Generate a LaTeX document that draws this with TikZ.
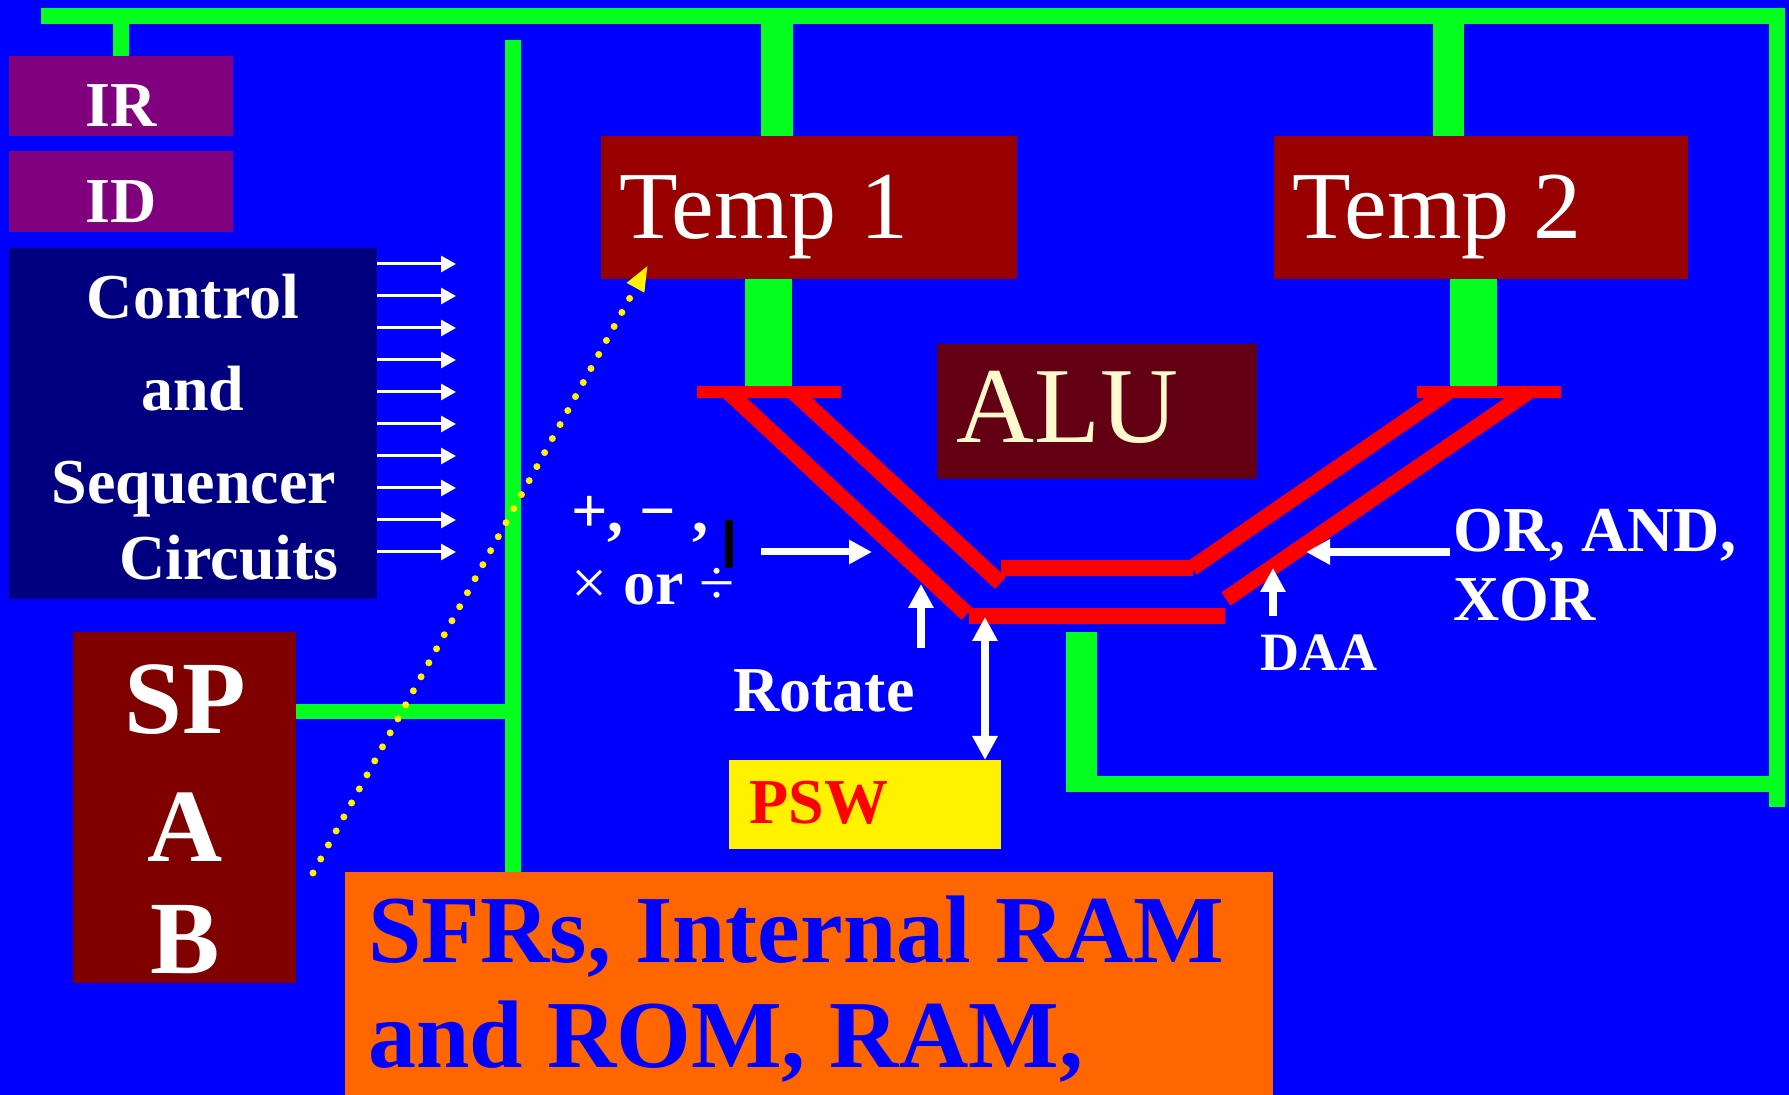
\documentclass[tikz,border=0pt]{standalone}
\usepackage{fontspec}
\setmainfont{Liberation Serif}
\usetikzlibrary{arrows.meta}
\definecolor{bg}{RGB}{0,0,255}
\definecolor{bus}{RGB}{5,255,30}
\definecolor{irc}{RGB}{128,0,128}
\definecolor{ctl}{RGB}{0,0,128}
\definecolor{tmp}{RGB}{153,0,0}
\definecolor{aluc}{RGB}{99,0,20}
\definecolor{spc}{RGB}{128,0,0}
\definecolor{sfr}{RGB}{255,102,0}
\definecolor{alutext}{RGB}{255,250,205}
\definecolor{redbar}{RGB}{255,0,0}
\begin{document}
\begin{tikzpicture}[x=0.5pt,y=-0.5pt,
  blk/.style={draw=none,inner sep=0pt,outer sep=0pt,anchor=north west},
  wtxt/.style={text=white,inner sep=0pt,font=\bfseries\fontsize{32}{36}\selectfont},
  bigtxt/.style={inner sep=0pt,anchor=base west,font=\fontsize{48}{50}\selectfont},
  sptxt/.style={text=white,inner sep=0pt,anchor=base,font=\bfseries\fontsize{52}{54}\selectfont},
  busline/.style={draw=bus,line cap=butt},
  redline/.style={draw=redbar,line cap=butt},
  thickarrow/.style={draw=white,line width=4pt,-{Triangle[length=12pt,width=12pt]}},
  thinarrow/.style={draw=white,line width=1.5pt,-{Triangle[length=7.5pt,width=8pt]}}
]
% background
\fill[bg] (0,0) rectangle (1789,1095);
\useasboundingbox (0,0) rectangle (1789,1095);

% ---------- buses (green) ----------
\coordinate (tl) at (41,16);
\coordinate (tr) at (1777,16);
\coordinate (br) at (1777,807);
\draw[busline,line width=8pt,line join=miter] (tl) -- (tr) -- (br);
\coordinate (irtop) at (121,16);
\coordinate (irbot) at (121,56);
\draw[busline,line width=8pt] (irtop) -- (irbot);
\coordinate (t1a) at (777,16);
\coordinate (t1b) at (777,136);
\draw[busline,line width=16pt] (t1a) -- (t1b);
\coordinate (t2a) at (1448.5,16);
\coordinate (t2b) at (1448.5,136);
\draw[busline,line width=15.5pt] (t2a) -- (t2b);
\coordinate (t1c) at (768.5,279);
\coordinate (t1d) at (768.5,386);
\draw[busline,line width=23.5pt] (t1c) -- (t1d);
\coordinate (t2c) at (1473.5,279);
\coordinate (t2d) at (1473.5,386);
\draw[busline,line width=23.5pt] (t2c) -- (t2d);
\coordinate (lva) at (513,40);
\coordinate (lvb) at (513,873);
\draw[busline,line width=8pt] (lva) -- (lvb);
\coordinate (spa) at (296,711.5);
\coordinate (spb) at (513,711.5);
\draw[busline,line width=7.5pt] (spa) -- (spb);
\coordinate (la) at (1081.5,632);
\coordinate (lb) at (1081.5,792);
\draw[busline,line width=15.5pt] (la) -- (lb);
\coordinate (lc) at (1066,784);
\coordinate (ld) at (1777,784);
\draw[busline,line width=8pt] (lc) -- (ld);

% ---------- boxes ----------
\node[blk,fill=irc,minimum width=112pt,minimum height=40pt] (ir) at (9,56) {};
\node[blk,fill=irc,minimum width=112pt,minimum height=40.5pt] (id) at (9,151) {};
\node[blk,fill=ctl,minimum width=184pt,minimum height=175.5pt] (ctlbox) at (9,248) {};
\node[blk,fill=tmp,minimum width=208pt,minimum height=71.5pt] (temp1) at (601,136) {};
\node[blk,fill=tmp,minimum width=207pt,minimum height=71.5pt] (temp2) at (1274,136) {};
\node[blk,fill=aluc,minimum width=160pt,minimum height=67.5pt] (alu) at (937,344) {};
\node[blk,fill=spc,minimum width=111.5pt,minimum height=175.5pt] (sp) at (73,632) {};
\node[blk,fill=yellow,minimum width=136pt,minimum height=44.5pt] (psw) at (729,760) {};
\node[blk,fill=sfr,minimum width=464pt,minimum height=111.5pt] (sfrs) at (345,872) {};

% ---------- ALU red data paths ----------
\coordinate (lo1) at (728.5,392);  \coordinate (lo2) at (967,614);
\coordinate (li1) at (793.5,392);  \coordinate (li2) at (1000.5,583);
\coordinate (ri1) at (1448,392);   \coordinate (ri2) at (1192,568);
\coordinate (ro1) at (1528,392);   \coordinate (ro2) at (1226,599);
\draw[redline,line width=8pt] (lo1) -- (lo2);
\draw[redline,line width=8pt] (li1) -- (li2);
\draw[redline,line width=8pt] (ri1) -- (ri2);
\draw[redline,line width=8pt] (ro1) -- (ro2);
\coordinate (lb1) at (697,392);  \coordinate (lb2) at (841,392);
\coordinate (rb1) at (1417,392); \coordinate (rb2) at (1561,392);
\draw[redline,line width=6pt] (lb1) -- (lb2);
\draw[redline,line width=6pt] (rb1) -- (rb2);
\coordinate (mu1) at (1001,568); \coordinate (mu2) at (1193,568);
\coordinate (ml1) at (969,616);  \coordinate (ml2) at (1225,616);
\draw[redline,line width=8pt] (mu1) -- (mu2);
\draw[redline,line width=8pt] (ml1) -- (ml2);

% ---------- control arrows ----------
\foreach \i in {0,...,9}{
  \coordinate (ca\i) at (377,{264+32*\i});
  \coordinate (cb\i) at (456,{264+32*\i});
  \draw[thinarrow] (ca\i) -- (cb\i);
}

% ---------- operation arrows ----------
\coordinate (opa) at (761,552); \coordinate (opb) at (872,552);
\draw[draw=white,line width=3.5pt,-{Triangle[length=11.5pt,width=11.5pt]}] (opa) -- (opb);
\coordinate (roa) at (921,648); \coordinate (rob) at (921,584);
\draw[thickarrow] (roa) -- (rob);
\coordinate (psa) at (985,617); \coordinate (psb) at (985,760);
\draw[draw=white,line width=4pt,{Triangle[length=12pt,width=12pt]}-{Triangle[length=12pt,width=12pt]}] (psa) -- (psb);
\coordinate (ora) at (1450,552); \coordinate (orb) at (1306,552);
\draw[thickarrow] (ora) -- (orb);
\coordinate (daa) at (1273,616); \coordinate (dab) at (1273,568);
\draw[thickarrow] (daa) -- (dab);

% black bar
\fill[black] (725,520) rectangle (733,568);

% ---------- yellow dotted pointer ----------
\coordinate (ya) at (313,873);
\coordinate (yb) at (648,265);
\draw[yellow,line width=3.5pt,line cap=round,dash pattern=on 0pt off 8pt,
      -{Triangle[length=13pt,width=9pt]}] (ya) -- (yb);

% ---------- texts ----------
\node[wtxt,anchor=base] (irt) at (121,127) {IR};
\node[wtxt,anchor=base] (idt) at (121,223) {ID};
\node[wtxt,anchor=base] (c1) at (193,319) {Control};
\node[wtxt,anchor=base] (c2) at (193,411) {and};
\node[wtxt,anchor=base] (c3) at (194,504) {Sequencer};
\node[wtxt,anchor=base] (c4) at (229,580) {Circuits};
\node[bigtxt,text=white] (t1t) at (619,239) {Temp 1};
\node[bigtxt,text=white] (t2t) at (1292,239) {Temp 2};
\node[inner sep=0pt,anchor=base west,text=alutext,font=\fontsize{54}{56}\selectfont] (alut) at (956,443) {ALU};
\node[sptxt] (spt) at (185,734) {SP};
\node[sptxt] (at) at (185,862) {A};
\node[sptxt] (bt) at (185,973) {B};
\node[inner sep=0pt,anchor=base west,text=bg,font=\bfseries\fontsize{48}{50}\selectfont] (s1) at (368,963) {SFRs, Internal RAM};
\node[inner sep=0pt,anchor=base west,text=bg,font=\bfseries\fontsize{48}{50}\selectfont] (s2) at (368,1067) {and ROM, RAM,};
\node[wtxt,anchor=base west,text=redbar] (pswt) at (749,824) {PSW};
\node[wtxt,anchor=base west] (rott) at (733,712) {Rotate};
\node[inner sep=0pt,anchor=base west,text=white,font=\bfseries\fontsize{27}{30}\selectfont] (daat) at (1260,671) {DAA};
\node[wtxt,anchor=base west] (or1) at (1453,552) {OR, AND,};
\node[wtxt,anchor=base west] (or2) at (1453,621) {XOR};
\node[wtxt,anchor=base west] (op1) at (571,533) {+, − ,};
\node[wtxt,anchor=base west] (op2) at (571,605) {{\mdseries ×} or {\mdseries ÷}};
\end{tikzpicture}
\end{document}
